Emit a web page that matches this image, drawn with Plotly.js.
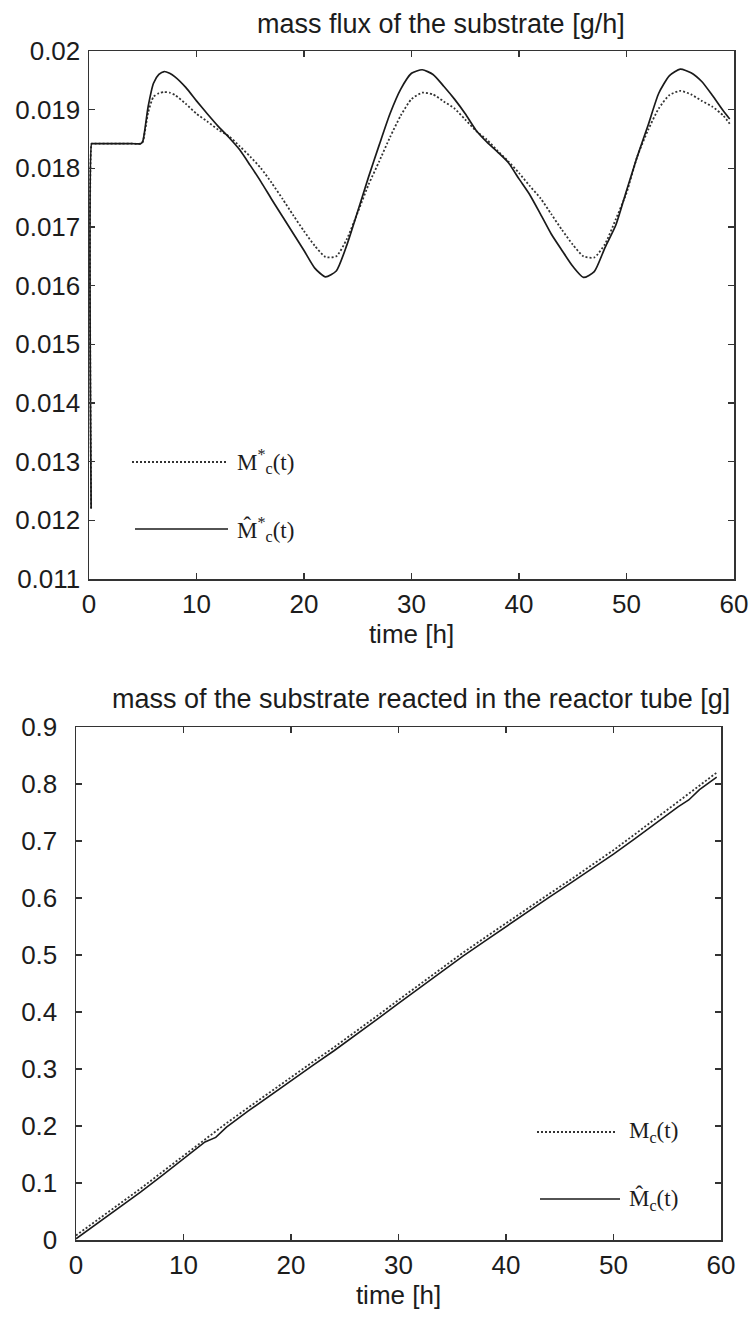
<!DOCTYPE html>
<html>
<head>
<meta charset="utf-8">
<script src="https://cdn.plot.ly/plotly-3.0.1.min.js"></script>
<style>
  html, body { margin: 0; padding: 0; background: #fff; }
  #chart { width: 756px; height: 1320px; }
</style>
</head>
<body>
<div id="chart"></div>
<script>
// ---------- data: top panel (mass flux of the substrate [g/h]) ----------
const timeFlux = [0.2, 0.24, 0.3, 0.6, 1, 2, 3, 4, 4.8, 5, 5.5, 6, 6.5, 7, 7.5, 8, 9, 10, 11, 12, 13, 14, 15,
  16, 17, 18, 19, 20, 21, 22, 23, 24, 25, 26, 27, 28, 29, 30, 31, 32, 33, 34, 35,
  36, 37, 38, 39, 40, 41, 42, 43, 44, 45, 46, 47, 48, 49, 50, 51, 52, 53, 54, 55,
  56, 57, 58, 59, 59.6];
const fluxMeasured = [0.0122, 0.01842, 0.01842, 0.01842, 0.01842, 0.01842, 0.01842, 0.01842, 0.01842, 0.01845, 0.01895, 0.01922, 0.01928,
  0.01930, 0.01929, 0.01925, 0.01910, 0.01893, 0.01880, 0.01866, 0.01855, 0.01838, 0.01820,
  0.01800, 0.01775, 0.01748, 0.01720, 0.01693, 0.01668, 0.01649, 0.01650, 0.01680, 0.01725,
  0.01772, 0.01812, 0.01853, 0.01890, 0.01918, 0.01929, 0.01926, 0.01914, 0.01902, 0.01883,
  0.01864, 0.01849, 0.01830, 0.01812, 0.01792, 0.01770, 0.01749, 0.01722, 0.01695, 0.01670,
  0.01650, 0.01648, 0.01671, 0.01713, 0.01758, 0.01820, 0.01865, 0.01902, 0.01925, 0.01932,
  0.01926, 0.01915, 0.01905, 0.01890, 0.01876];
const fluxEstimated = [0.0122, 0.01842, 0.01842, 0.01842, 0.01842, 0.01842, 0.01842, 0.01842, 0.01842, 0.01846, 0.01905, 0.01945, 0.01960,
  0.01965, 0.01962, 0.01956, 0.01938, 0.01915, 0.01893, 0.01872, 0.01853, 0.01832, 0.01805,
  0.01777, 0.01747, 0.01718, 0.01689, 0.01660, 0.01630, 0.01615, 0.01625, 0.01670, 0.01727,
  0.01785, 0.01840, 0.01893, 0.01935, 0.01962, 0.01968, 0.01960, 0.01940, 0.01918, 0.01893,
  0.01865, 0.01845, 0.01828, 0.01810, 0.01782, 0.01755, 0.01722, 0.01688, 0.01660, 0.01633,
  0.01614, 0.01624, 0.01665, 0.01703, 0.01762, 0.01820, 0.01873, 0.01928, 0.01958, 0.01969,
  0.01963, 0.01948, 0.01924, 0.01898, 0.01884];

// ---------- data: bottom panel (mass of substrate reacted [g]) ----------
const timeMassMeasured = [0, 2, 4, 6, 8, 10, 12, 14, 16, 18, 20, 22, 24, 26, 28, 30, 32, 34, 36, 38,
  40, 42, 44, 46, 48, 50, 52, 54, 56, 58, 59.6];
const massMeasured = [0.008, 0.035, 0.063, 0.090, 0.119, 0.148, 0.177, 0.205, 0.232, 0.259,
  0.286, 0.312, 0.338, 0.365, 0.393, 0.421, 0.449, 0.477, 0.504, 0.530,
  0.556, 0.582, 0.607, 0.632, 0.658, 0.684, 0.712, 0.740, 0.768, 0.796, 0.820];
const timeMassEstimated = [0, 2, 4, 6, 8, 10, 12, 13, 14, 16, 18, 20, 22, 24, 26, 28, 30, 32, 34, 36,
  38, 40, 42, 44, 46, 48, 50, 52, 54, 56, 57, 58, 59.6];
const massEstimated = [0.002, 0.029, 0.057, 0.084, 0.113, 0.142, 0.172, 0.180, 0.198, 0.226,
  0.253, 0.280, 0.306, 0.332, 0.359, 0.387, 0.415, 0.443, 0.471, 0.498,
  0.524, 0.550, 0.576, 0.601, 0.626, 0.651, 0.677, 0.704, 0.732, 0.760,
  0.772, 0.790, 0.812];

// ---------- tick labels ----------
const timeTicks = [0, 10, 20, 30, 40, 50, 60];
const fluxTicks = [0.011, 0.012, 0.013, 0.014, 0.015, 0.016, 0.017, 0.018, 0.019, 0.020];
const fluxTickText = ['0.011', '0.012', '0.013', '0.014', '0.015', '0.016', '0.017', '0.018', '0.019', '0.02'];
const massTicks = [0, 0.1, 0.2, 0.3, 0.4, 0.5, 0.6, 0.7, 0.8, 0.9];
const massTickText = ['0', '0.1', '0.2', '0.3', '0.4', '0.5', '0.6', '0.7', '0.8', '0.9'];

// ---------- texts ----------
const titleTop = 'mass flux of the substrate [g/h]';
const titleBottom = 'mass of the substrate reacted in the reactor tube [g]';
const xTitle = 'time [h]';
const legTop = ['M<sup>*</sup><sub>c</sub>(t)', 'M\u0302<sup>*</sup><sub>c</sub>(t)'];
const legBottom = ['M<sub>c</sub>(t)', 'M\u0302<sub>c</sub>(t)'];

// ---------- layout helpers (pixel -> paper) ----------
const W = 756, H = 1320;
const px = v => v / W;
const py = v => 1 - v / H;

const ink = '#1c1c1c';
const sans = 'Liberation Sans, Arial, sans-serif';
const serif = 'Liberation Serif, Times New Roman, serif';
const dotDash = '2px,2px';
const dotColor = '#333';
const solidColor = '#1a1a1a';

const traces = [
  { x: timeFlux, y: fluxMeasured, xaxis: 'x', yaxis: 'y', mode: 'lines', name: 'M*c(t)',
    line: { color: dotColor, width: 1.8, dash: dotDash, shape: 'spline', smoothing: 0.6 },
    showlegend: false, hoverinfo: 'skip' },
  { x: timeFlux, y: fluxEstimated, xaxis: 'x', yaxis: 'y', mode: 'lines', name: 'M^*c(t)',
    line: { color: solidColor, width: 1.7, shape: 'spline', smoothing: 0.6 },
    showlegend: false, hoverinfo: 'skip' },
  { x: timeMassMeasured, y: massMeasured, xaxis: 'x2', yaxis: 'y2', mode: 'lines', name: 'Mc(t)',
    line: { color: dotColor, width: 1.8, dash: dotDash }, showlegend: false, hoverinfo: 'skip' },
  { x: timeMassEstimated, y: massEstimated, xaxis: 'x2', yaxis: 'y2', mode: 'lines', name: 'M^c(t)',
    line: { color: solidColor, width: 1.6 }, showlegend: false, hoverinfo: 'skip' }
];

const axisBase = {
  showline: true, linecolor: '#333', linewidth: 1.5, mirror: 'ticks',
  ticks: 'inside', ticklen: 6, tickwidth: 1.3, tickcolor: '#333',
  showgrid: false, zeroline: false, automargin: false,
  tickfont: { family: sans, size: 26, color: ink }
};

const layout = {
  width: W, height: H,
  margin: { l: 0, r: 0, t: 0, b: 0 },
  paper_bgcolor: '#fff', plot_bgcolor: '#fff',
  showlegend: false,
  xaxis: Object.assign({}, axisBase, {
    domain: [px(89), px(734)], anchor: 'y', range: [0, 60],
    tickvals: timeTicks, ticktext: timeTicks.map(String),
    ticklabelstandoff: 1,
    title: { text: xTitle, font: { family: sans, size: 26, color: ink }, standoff: 0 }
  }),
  yaxis: Object.assign({}, axisBase, {
    domain: [py(579), py(51)], anchor: 'x', range: [0.011, 0.02],
    tickvals: fluxTicks, ticktext: fluxTickText, ticklabelstandoff: 2
  }),
  xaxis2: Object.assign({}, axisBase, {
    domain: [px(76), px(721)], anchor: 'y2', range: [0, 60],
    tickvals: timeTicks, ticktext: timeTicks.map(String),
    ticklabelstandoff: 1,
    title: { text: xTitle, font: { family: sans, size: 26, color: ink }, standoff: 4 }
  }),
  yaxis2: Object.assign({}, axisBase, {
    domain: [py(1240), py(727)], anchor: 'x2', range: [0, 0.9],
    tickvals: massTicks, ticktext: massTickText, ticklabelstandoff: 12
  }),
  annotations: [
    { text: titleTop, xref: 'paper', yref: 'paper', x: px(441), y: py(24), xanchor: 'center', yanchor: 'middle',
      showarrow: false, font: { family: sans, size: 27, color: ink } },
    { text: titleBottom, xref: 'paper', yref: 'paper', x: px(421), y: py(699), xanchor: 'center', yanchor: 'middle',
      showarrow: false, font: { family: sans, size: 27, color: ink } },
    { text: legTop[0], xref: 'paper', yref: 'paper', x: px(235), y: py(462), xanchor: 'left', yanchor: 'middle',
      showarrow: false, font: { family: serif, size: 23, color: ink } },
    { text: legTop[1], xref: 'paper', yref: 'paper', x: px(235), y: py(529), xanchor: 'left', yanchor: 'middle',
      showarrow: false, font: { family: serif, size: 23, color: ink } },
    { text: legBottom[0], xref: 'paper', yref: 'paper', x: px(627), y: py(1132), xanchor: 'left', yanchor: 'middle',
      showarrow: false, font: { family: serif, size: 23, color: ink } },
    { text: legBottom[1], xref: 'paper', yref: 'paper', x: px(627), y: py(1199), xanchor: 'left', yanchor: 'middle',
      showarrow: false, font: { family: serif, size: 23, color: ink } }
  ],
  shapes: [
    { type: 'line', xref: 'paper', yref: 'paper', x0: px(132), x1: px(228), y0: py(462), y1: py(462),
      line: { color: dotColor, width: 1.8, dash: dotDash } },
    { type: 'line', xref: 'paper', yref: 'paper', x0: px(135), x1: px(228), y0: py(529), y1: py(529),
      line: { color: solidColor, width: 1.6 } },
    { type: 'line', xref: 'paper', yref: 'paper', x0: px(537), x1: px(617), y0: py(1132), y1: py(1132),
      line: { color: dotColor, width: 1.8, dash: dotDash } },
    { type: 'line', xref: 'paper', yref: 'paper', x0: px(540), x1: px(620), y0: py(1199), y1: py(1199),
      line: { color: solidColor, width: 1.6 } }
  ]
};

Plotly.newPlot('chart', traces, layout, { displayModeBar: false, staticPlot: true });
</script>
</body>
</html>
